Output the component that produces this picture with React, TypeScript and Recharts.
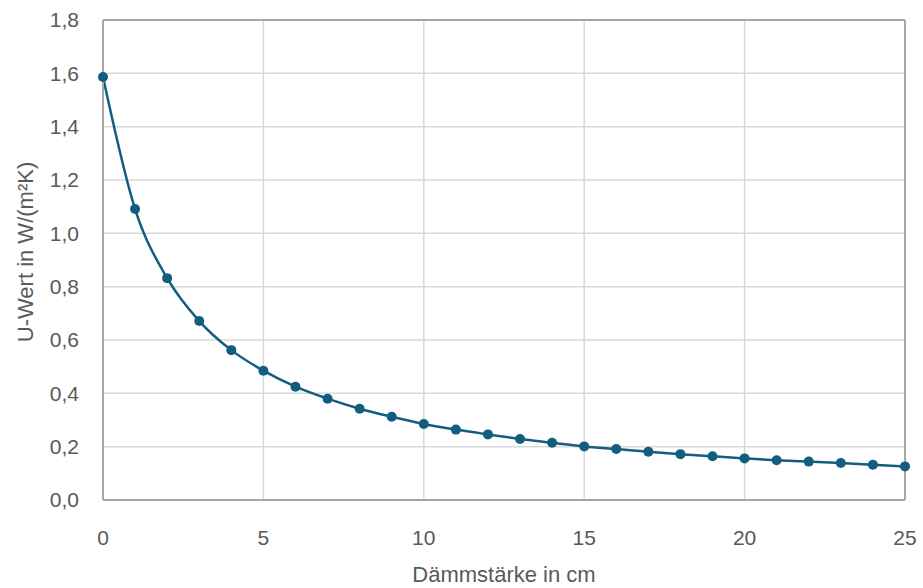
import {
  LineChart,
  Line,
  XAxis,
  YAxis,
  CartesianGrid,
  ReferenceLine,
} from "recharts";

const thickness = [
  0, 1, 2, 3, 4, 5, 6, 7, 8, 9, 10, 11, 12, 13, 14, 15, 16, 17, 18, 19, 20, 21,
  22, 23, 24, 25,
];
const uValues = [
  1.586, 1.091, 0.832, 0.671, 0.562, 0.485, 0.425, 0.38, 0.342, 0.312, 0.285,
  0.264, 0.246, 0.229, 0.215, 0.201, 0.191, 0.181, 0.172, 0.164, 0.156, 0.149,
  0.144, 0.139, 0.132, 0.126,
];
const xTicks = [0, 5, 10, 15, 20, 25];
const yTicks = [0, 0.2, 0.4, 0.6, 0.8, 1.0, 1.2, 1.4, 1.6, 1.8];

const data = thickness.map((d, i) => ({ d, u: uValues[i] }));

const font = "'Liberation Sans', Arial, sans-serif";
const blue = "#135e80";
const axisGray = "#a6a6a6";

export default function App() {
  return (
    <div style={{ position: "absolute", left: 0, top: 0, background: "#fff" }}>
      <LineChart
        width={923}
        height={588}
        data={data}
        margin={{ top: 20, right: 18, bottom: 0, left: 43 }}
        style={{ fontFamily: font }}
      >
        <CartesianGrid stroke="#d9d9d9" strokeWidth={1.5} />
        <XAxis
          dataKey="d"
          type="number"
          domain={[0, 25]}
          ticks={xTicks}
          tickLine={false}
          axisLine={{ stroke: axisGray, strokeWidth: 2 }}
          tick={{ fill: "#595959", fontSize: 21 }}
          tickMargin={24}
          label={{
            value: "Dämmstärke in cm",
            position: "insideBottom",
            offset: 6,
            fill: "#595959",
            fontSize: 22,
          }}
          height={88}
        />
        <YAxis
          type="number"
          domain={[0, 1.8]}
          ticks={yTicks}
          width={60}
          tickLine={false}
          axisLine={{ stroke: axisGray, strokeWidth: 2 }}
          tick={{ fill: "#595959", fontSize: 21 }}
          tickMargin={18}
          tickFormatter={(v: number) => v.toFixed(1).replace(".", ",")}
          label={{
            value: "U-Wert in W/(m²K)",
            angle: -90,
            position: "insideLeft",
            offset: 0,
            dx: -18,
            dy: -8,
            fill: "#595959",
            fontSize: 22,
            style: { textAnchor: "middle" },
          }}
        />
        <ReferenceLine y={1.8} stroke={axisGray} strokeWidth={2} />
        <ReferenceLine x={25} stroke={axisGray} strokeWidth={2} />
        <Line
          type="monotone"
          dataKey="u"
          stroke={blue}
          strokeWidth={2.5}
          dot={{ r: 5, fill: blue, stroke: blue, strokeWidth: 0 }}
          isAnimationActive={false}
        />
      </LineChart>
    </div>
  );
}
